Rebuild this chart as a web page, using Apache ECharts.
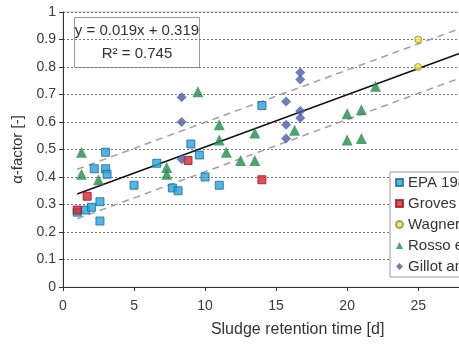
<!DOCTYPE html>
<html>
<head>
<meta charset="utf-8">
<title>Alpha factor vs sludge retention time</title>
<script src="https://cdn.jsdelivr.net/npm/echarts@6/dist/echarts.min.js"></script>
<style>
  html, body { margin: 0; padding: 0; background: #fff; overflow: hidden; width: 459px; height: 350px; }
  #chart { width: 500px; height: 350px; }
</style>
</head>
<body>
<div id="chart"></div>
<script>
// Measured alpha factors, [SRT in days, alpha]
const epa1989 = [
  [1.0, 0.272], [1.6, 0.28], [2.0, 0.29], [2.6, 0.31], [2.6, 0.24],
  [2.2, 0.43], [3.0, 0.49], [3.0, 0.43], [3.1, 0.41], [5.0, 0.37],
  [6.6, 0.45], [7.7, 0.36], [8.1, 0.35], [9.0, 0.52], [9.6, 0.48],
  [10.0, 0.40], [11.0, 0.37], [14.0, 0.66]
];
const groves = [[1.0, 0.28], [1.7, 0.33], [8.8, 0.46], [14.0, 0.39]];
const wagner = [[25.0, 0.90], [25.0, 0.80]];
const rosso = [
  [1.3, 0.49], [1.3, 0.41], [2.5, 0.39], [7.3, 0.435], [7.3, 0.41],
  [9.5, 0.71], [11.0, 0.59], [11.0, 0.535], [11.5, 0.49], [12.5, 0.46],
  [13.5, 0.46], [13.5, 0.56], [16.3, 0.57], [20.0, 0.63], [21.0, 0.645],
  [20.0, 0.535], [21.0, 0.54], [22.0, 0.73]
];
const gillot = [
  [8.35, 0.69], [8.35, 0.60], [8.35, 0.465], [16.7, 0.78], [16.7, 0.755],
  [15.7, 0.675], [16.7, 0.64], [16.7, 0.615], [15.7, 0.59], [15.7, 0.54]
];

const seriesNames = ['EPA 1989', 'Groves et al. 1992', 'Wagner et al. 2002', 'Rosso et al. 2005', 'Gillot and Héduit 2008'];

// Linear regression and its band
const slope = 0.019;
const intercept = 0.319;
const rSquared = 0.745;
const fitRange = [1, 30];
const bandHalfWidth = 0.09;

const xTicks = { min: 0, max: 30, interval: 5 };
const yTicks = { min: 0, max: 1, interval: 0.1 };

const fitAt = x => intercept + slope * x;
const fitLine = fitRange.map(x => [x, fitAt(x)]);
const upperBand = fitRange.map(x => [x, fitAt(x) + bandHalfWidth]);
const lowerBand = fitRange.map(x => [x, fitAt(x) - bandHalfWidth]);

const font = 'Liberation Sans, Arial, sans-serif';

const chart = echarts.init(document.getElementById('chart'), null, { renderer: 'canvas' });

function scatter(name, data, symbol, size, color, border) {
  return {
    name, type: 'scatter', data, symbol, symbolSize: size, z: 5,
    itemStyle: { color, borderColor: border, borderWidth: border ? 1 : 0 }
  };
}

chart.setOption({
  animation: false,
  backgroundColor: '#fff',
  grid: {
    left: 63, top: 12, bottom: 63, right: 8,
    show: true, borderColor: '#c8c8c8', borderWidth: 1, backgroundColor: 'transparent'
  },
  xAxis: {
    type: 'value', min: xTicks.min, max: xTicks.max, interval: xTicks.interval,
    name: 'Sludge retention time [d]', nameLocation: 'middle', nameGap: 35,
    nameTextStyle: { fontFamily: font, fontSize: 16, color: '#333', padding: [0, 0, 0, 43] },
    axisLine: { lineStyle: { color: '#333', width: 1 } },
    axisTick: { show: true, inside: false, length: 4, lineStyle: { color: '#333' } },
    axisLabel: { fontFamily: font, fontSize: 14, color: '#3a3a3a', margin: 12 },
    splitLine: { show: false }
  },
  yAxis: {
    type: 'value', min: yTicks.min, max: yTicks.max, interval: yTicks.interval,
    name: 'α-factor [-]', nameLocation: 'middle', nameGap: 35, nameRotate: 90,
    nameTextStyle: { fontFamily: font, fontSize: 15, color: '#333' },
    axisLine: { show: true, lineStyle: { color: '#333', width: 1 } },
    axisTick: { show: true, inside: false, length: 4, lineStyle: { color: '#333' } },
    axisLabel: { fontFamily: font, fontSize: 14, color: '#3a3a3a', margin: 7 },
    splitLine: { show: true, lineStyle: { color: '#777', type: [2, 2], width: 1 } }
  },
  legend: {
    orient: 'vertical', left: 390, top: 172,
    data: seriesNames,
    backgroundColor: '#fff', borderColor: '#999', borderWidth: 1,
    padding: [3, 6, 3, 5], itemGap: 6, itemWidth: 7, itemHeight: 7,
    textStyle: { fontFamily: font, fontSize: 15, color: '#333', lineHeight: 15 }
  },
  graphic: [
    {
      type: 'group', left: 74, top: 17, z: 10,
      children: [
        { type: 'rect', shape: { x: 0, y: 0, width: 125, height: 50 },
          style: { fill: '#fff', stroke: '#999', lineWidth: 1 } },
        { type: 'text', x: 62.5, y: 13,
          style: { text: 'y = ' + slope.toFixed(3) + 'x + ' + intercept.toFixed(3),
                   font: '15px ' + font, fill: '#333', align: 'center', verticalAlign: 'middle' } },
        { type: 'text', x: 62.5, y: 36,
          style: { text: 'R² = ' + rSquared.toFixed(3),
                   font: '15px ' + font, fill: '#333', align: 'center', verticalAlign: 'middle' } }
      ]
    }
  ],
  series: [
    { name: 'fit', type: 'line', data: fitLine, symbol: 'none', z: 3, silent: true,
      lineStyle: { color: '#111', width: 1.5 } },
    { name: 'upper', type: 'line', data: upperBand, symbol: 'none', z: 3, silent: true,
      lineStyle: { color: '#a0a0a0', width: 1.5, type: [7, 5] } },
    { name: 'lower', type: 'line', data: lowerBand, symbol: 'none', z: 3, silent: true,
      lineStyle: { color: '#a0a0a0', width: 1.5, type: [7, 5] } },
    scatter(seriesNames[0], epa1989, 'rect', 8, '#27a3dc', '#1b6a99'),
    scatter(seriesNames[1], groves, 'rect', 8, '#d9232d', '#8e1a20'),
    scatter(seriesNames[2], wagner, 'circle', 7, '#f3e629', '#8a8a60'),
    scatter(seriesNames[3], rosso, 'triangle', 11, '#1f8c4a', null),
    scatter(seriesNames[4], gillot, 'diamond', 10, '#4b5baa', null)
  ]
});
</script>
</body>
</html>
